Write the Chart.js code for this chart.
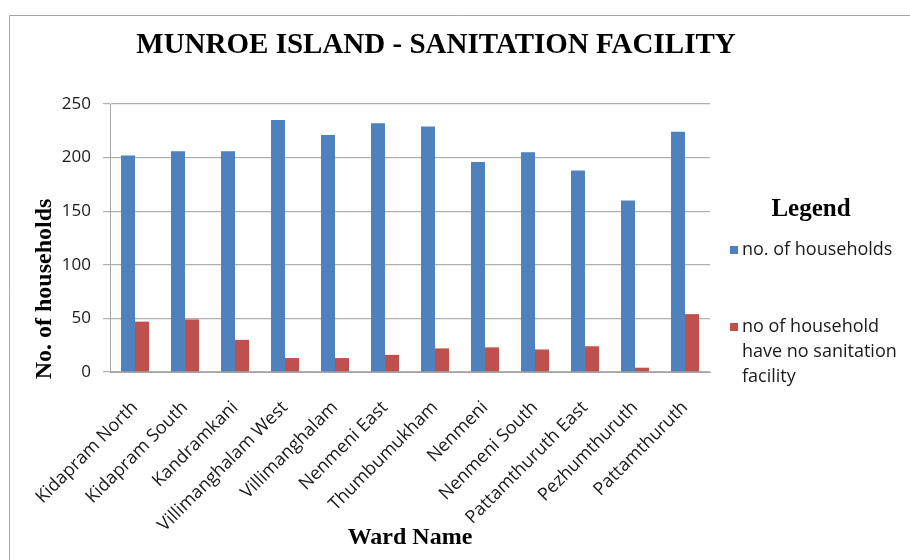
<!DOCTYPE html>
<html>
<head>
<meta charset="utf-8">
<script src="https://cdn.jsdelivr.net/npm/chart.js@4.4.1/dist/chart.umd.min.js"></script>
<style>
html,body{margin:0;padding:0;background:#fff;}
#wrap{width:910px;height:560px;position:relative;}
</style>
</head>
<body>
<div id="wrap"><canvas id="c" width="910" height="560"></canvas></div>
<script>
const categories = ["Kidapram North","Kidapram South","Kandramkani","Villimanghalam West","Villimanghalam","Nenmeni East","Thumbumukham","Nenmeni","Nenmeni South","Pattamthuruth East","Pezhumthuruth","Pattamthuruth"];
const households = [202,206,206,235,221,232,229,196,205,188,160,224];
const noSanitation = [47,49,30,13,13,16,22,23,21,24,4,54];
const seriesNames = ["no. of households", ["no of household","have no sanitation","facility"]];
const yTicks = [0,50,100,150,200,250];

const BLUE = '#4F81BD', RED = '#C0504D';
const TICKFONT = '"Open Sans", sans-serif';
const SERIF = '"Liberation Serif", "Times New Roman", serif';

const framePlugin = {
  id: 'frameAndLegend',
  beforeDraw(chart) {
    const ctx = chart.ctx;
    ctx.save();
    ctx.fillStyle = '#fff';
    ctx.fillRect(0, 0, chart.width, chart.height);
    ctx.strokeStyle = '#a6a6a6';
    ctx.lineWidth = 1;
    ctx.beginPath();
    ctx.moveTo(9.5, 600); ctx.lineTo(9.5, 15.5); ctx.lineTo(1000, 15.5);
    ctx.stroke();
    ctx.restore();
  },
  afterDraw(chart) {
    const ctx = chart.ctx;
    ctx.save();
    // title
    ctx.fillStyle = '#000';
    ctx.font = 'bold 29px ' + SERIF;
    ctx.textAlign = 'center';
    ctx.textBaseline = 'alphabetic';
    ctx.fillText('MUNROE ISLAND - SANITATION FACILITY', 436, 53);
    // y axis title
    ctx.save();
    ctx.translate(45, 289);
    ctx.rotate(-Math.PI / 2);
    ctx.font = 'bold 24px ' + SERIF;
    ctx.textBaseline = 'middle';
    ctx.fillText('No. of households', 0, 0);
    ctx.restore();
    // legend
    ctx.font = 'bold 25px ' + SERIF;
    ctx.textBaseline = 'alphabetic';
    ctx.fillText('Legend', 811, 216);
    ctx.textAlign = 'left';
    ctx.font = '18px ' + TICKFONT;
    const colors = [BLUE, RED];
    const ys = [250, 327];
    seriesNames.forEach((n, i) => {
      ctx.fillStyle = colors[i];
      ctx.fillRect(730, ys[i] - 4, 8, 8);
      ctx.fillStyle = '#1a1a1a';
      const lines = Array.isArray(n) ? n : [n];
      lines.forEach((l, j) => {
        ctx.textBaseline = 'middle';
        ctx.fillText(l, 742, ys[i] + j * 25);
      });
    });
    ctx.restore();
  }
};

new Chart(document.getElementById('c'), {
  type: 'bar',
  data: {
    labels: categories,
    datasets: [
      { label: 'no. of households', data: households, backgroundColor: BLUE, borderWidth: 0 },
      { label: 'no of household have no sanitation facility', data: noSanitation, backgroundColor: RED, borderWidth: 0 }
    ]
  },
  options: {
    responsive: false,
    animation: false,
    layout: { padding: { left: 0, right: 200, top: 104, bottom: 0 } },
    plugins: { legend: { display: false }, title: { display: false }, tooltip: { enabled: false } },
    datasets: { bar: { categoryPercentage: 0.56, barPercentage: 1.0 } },
    scales: {
      x: {
        grid: { display: false, drawTicks: false },
        border: { display: true, color: '#a6a6a6' },
        ticks: { maxRotation: 45, minRotation: 45, autoSkip: false, color: '#1a1a1a', font: { family: TICKFONT, size: 18 }, padding: 25 },
        title: { display: true, text: 'Ward Name', color: '#000', font: { family: SERIF, size: 24, weight: 'bold' }, padding: { top: 0, bottom: 8 } },
        afterFit(s) { s.height = 188; }
      },
      y: {
        min: 0, max: 250,
        afterBuildTicks(s) { s.ticks = yTicks.map(v => ({ value: v })); },
        grid: { color: '#b0b0b0', tickLength: 7, lineWidth: 1.2 },
        border: { display: true, color: '#a6a6a6' },
        ticks: { color: '#1a1a1a', font: { family: TICKFONT, size: 17 }, padding: 12 },
        title: { display: false },
        afterFit(s) { s.width = 110; }
      }
    }
  },
  plugins: [framePlugin]
});
</script>
</body>
</html>
